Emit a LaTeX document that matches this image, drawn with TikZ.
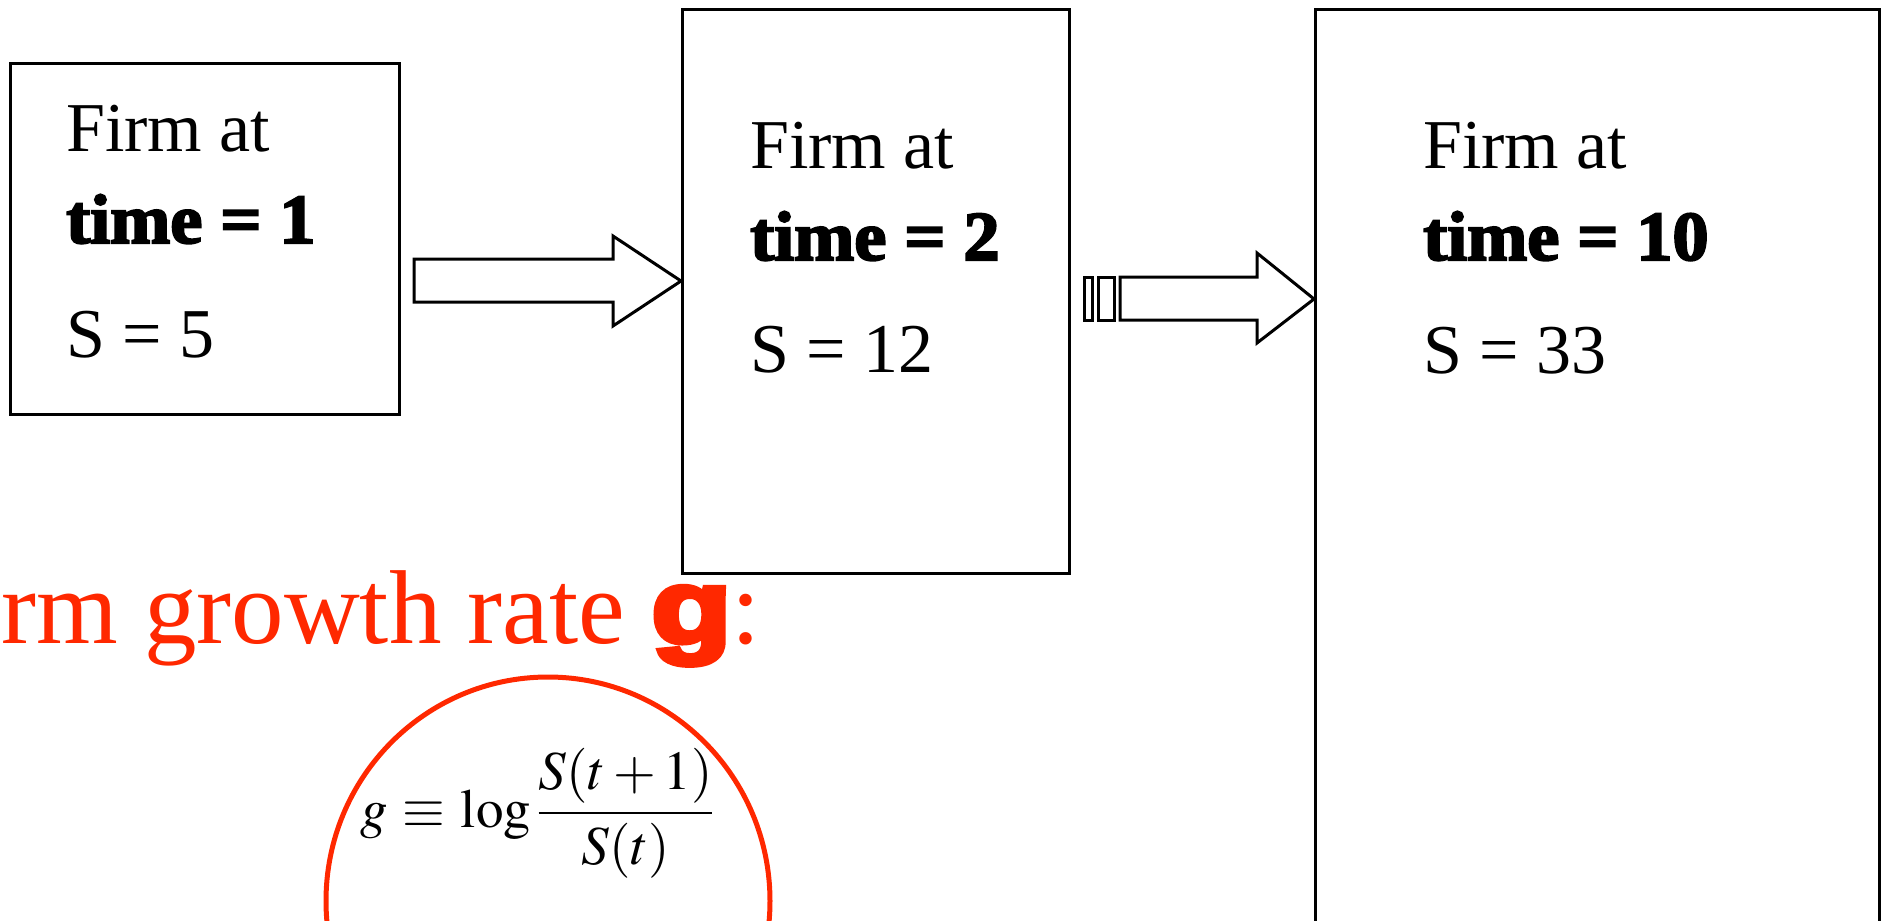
\documentclass[tikz,border=0pt]{standalone}
\usepackage{mathptmx}
\usepackage{graphicx}
\usepackage{fontspec}
\setmainfont{Liberation Serif}
\newfontfamily\timesheavy[FakeBold=3]{Liberation Serif Bold}
\newfontfamily\sansheavy[FakeBold=5]{Liberation Sans Bold}
\definecolor{myred}{RGB}{255,40,0}
\tikzset{
  boxstyle/.style={draw=black, line width=3pt, fill=white, inner sep=0pt, anchor=north west},
  blk/.style={draw=black, line width=3pt, line join=miter, fill=white},
  txt/.style={anchor=base west, inner sep=0pt, font=\fontsize{70}{80}\selectfont},
}
\begin{document}
\begin{tikzpicture}[x=1pt,y=-1pt]
\useasboundingbox (0,0) rectangle (1883,921);
\clip (0,0) rectangle (1883,921);
\fill[white] (0,0) rectangle (1883,921);
% boxes
\node[boxstyle, minimum width=389pt, minimum height=351pt] (b1) at (9,62) {};
\node[boxstyle, minimum width=387pt, minimum height=564pt] (b2) at (681,8) {};
\node[boxstyle, minimum width=564pt, minimum height=1000pt] (b3) at (1314,8) {};
% arrow 1
\draw[blk] (414,259) -- (613,259) -- (613,236) -- (b2.west |- 0,281) -- (613,326) -- (613,302) -- (414,302) -- cycle;
% arrow 2
\draw[blk] (1084,277) rectangle (1092,320);
\draw[blk] (1098,277) rectangle (1114,320);
\draw[blk] (1120,277) -- (1257,277) -- (1257,253) -- (b3.west |- 0,299) -- (1257,343) -- (1257,320) -- (1120,320) -- cycle;
% texts box 1
\node[txt] (f1) at (66,151) {Firm at};
\node[txt] (t1) at (66,243) {\timesheavy\scalebox{1.03}[1]{time = 1}};
\node[txt] (s1) at (66,357) {S = 5};
% texts box 2
\node[txt] (f2) at (750,168) {Firm at};
\node[txt] (t2) at (750,260) {\timesheavy\scalebox{1.03}[1]{time = 2}};
\node[txt] (s2) at (750,372) {S = 12};
% texts box 3
\node[txt] (f3) at (1423,168) {Firm at};
\node[txt] (t3) at (1423,260) {\timesheavy\scalebox{1.03}[1]{time = 10}};
\node[txt] (s3) at (1423,373) {S = 33};
% red title
\node[anchor=base west, inner sep=0pt, text=myred, font=\fontsize{105}{110}\selectfont] (title) at (1,643) {rm growth rate {\sansheavy\scalebox{1.25}[1]{g}}:};
% circle
\draw[myred, line width=5pt] (548,901) ellipse [x radius=222, y radius=224];
% formula
\node[anchor=base west, inner sep=0pt, font=\fontsize{55}{60}\selectfont] (eq) at (360,827) {$\displaystyle g \mskip1mu\equiv\mskip1mu \log\frac{S(t+1)}{S(t)}$};
\end{tikzpicture}
\end{document}
